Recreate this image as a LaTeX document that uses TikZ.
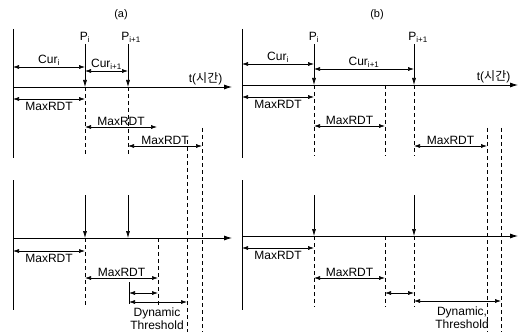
\documentclass[tikz,border=0pt]{standalone}
\usepackage{fontspec}
\setmainfont{Liberation Sans}
\newfontfamily\krfont{Noto Sans CJK KR}
\usetikzlibrary{arrows.meta,positioning}

\begin{document}
\begin{tikzpicture}[x=1pt, y=-1pt,
        axis/.style={thick, -{Latex[length=8pt,width=5pt]}},
        span/.style={semithick, {Latex[length=6pt,width=4pt]}-{Latex[length=6pt,width=4pt]}},
        pulse/.style={semithick, -{Latex[length=7pt,width=4pt]}},
        guide/.style={dashed, dash pattern=on 4pt off 3pt},
        edge/.style={thick},
        lbl/.style={font=\fontsize{12}{13}\selectfont, inner sep=1.5pt},
        ttl/.style={font=\fontsize{11}{12}\selectfont}
    ]
        \useasboundingbox (0,0) rectangle (519,334);

        % ── (a) top ──────────────────────────────────────────────────────
        \node[ttl] (aTitle) at (121,15) {(a)};
        \coordinate (aEdgeT) at (13,29);   \coordinate (aEdgeB) at (13,158);
        \coordinate (aAxL)   at (13,87);   \coordinate (aAxR)   at (232,87);
        \draw[edge] (aEdgeT) -- (aEdgeB);
        \draw[axis] (aAxL) -- (aAxR);
        \node[lbl, anchor=south east] (aTime) at (aAxR) [xshift=-8pt] {t({\krfont 시간})};

        \node[lbl] (aPi)  at (85,37)  {P\textsubscript{i}};
        \node[lbl] (aPj)  at (131,37) {P\textsubscript{i+1}};
        \draw[pulse] (85,44) coordinate (aPiT) -- (85,87) coordinate (aPiB);
        \draw[pulse] (128,44) coordinate (aPjT) -- (128,87) coordinate (aPjB);

        \coordinate (aC1l) at (13,67);  \coordinate (aC1r) at (85,67);
        \coordinate (aC2l) at (85,71);  \coordinate (aC2r) at (128,71);
        \draw[span] (aC1l) -- node[above, lbl] {Cur\textsubscript{i}} (aC1r);
        \draw[span] (aC2l) -- node[above, lbl] {Cur\textsubscript{i+1}} (aC2r);

        \coordinate (aM1l) at (13,99);   \coordinate (aM1r) at (85,99);
        \coordinate (aM2l) at (85,127);  \coordinate (aM2r) at (157,127);
        \coordinate (aM3l) at (128,146); \coordinate (aM3r) at (202,146);
        \draw[span] (aM1l) -- node[below=1pt, lbl] {MaxRDT} (aM1r);
        \draw[span] (aM2l) -- node[above, lbl] {MaxRDT} (aM2r);
        \draw[span] (aM3l) -- node[above, lbl] {MaxRDT} (aM3r);

        \draw[guide] (aPiB) -- (85,156);
        \draw[guide] (aPjB) -- (128,156);

        % ── (a) bottom ───────────────────────────────────────────────────
        \coordinate (aEdgeT2) at (13,180);  \coordinate (aEdgeB2) at (13,310);
        \coordinate (aAxL2)   at (13,238);  \coordinate (aAxR2)   at (232,238);
        \draw[edge] (aEdgeT2) -- (aEdgeB2);
        \draw[axis] (aAxL2) -- (aAxR2);
        \draw[pulse] (85,195) -- (85,238) coordinate (aPiB2);
        \draw[pulse] (128,195) -- (128,238);

        \coordinate (aN1l) at (13,251);  \coordinate (aN1r) at (85,251);
        \coordinate (aN2l) at (85,278);  \coordinate (aN2r) at (158,278);
        \draw[span] (aN1l) -- node[below=1pt, lbl] {MaxRDT} (aN1r);
        \draw[span] (aN2l) -- node[above, lbl] {MaxRDT} (aN2r);
        \draw[guide] (aPiB2) -- (85,307);
        \draw[guide] (158,238) -- (158,307);

        \draw (129,282) -- (129,304);
        \coordinate (aD1l) at (129,293); \coordinate (aD1r) at (158,293);
        \coordinate (aD2l) at (129,302); \coordinate (aD2r) at (187,302);
        \draw[span] (aD1l) -- (aD1r);
        \draw[span] (aD2l) -- (aD2r);
        \node[lbl, align=center] (aDyn) at (157,319) {Dynamic\\Threshold};

        \draw[guide] (187,140) -- (187,332);
        \draw[guide] (202,128) -- (202,332);

        % ── (b) top ──────────────────────────────────────────────────────
        \node[ttl] (bTitle) at (377,15) {(b)};
        \coordinate (bEdgeT) at (242,29);  \coordinate (bEdgeB) at (242,158);
        \coordinate (bAxL)   at (242,85);  \coordinate (bAxR)   at (518,85);
        \draw[edge] (bEdgeT) -- (bEdgeB);
        \draw[axis] (bAxL) -- (bAxR);
        \node[lbl, anchor=south east] (bTime) at (bAxR) [xshift=-6pt] {t({\krfont 시간})};

        \node[lbl] (bPi) at (314,37) {P\textsubscript{i}};
        \node[lbl] (bPj) at (418,37) {P\textsubscript{i+1}};
        \draw[pulse] (314,44) -- (314,85) coordinate (bPiB);
        \draw[pulse] (414,44) -- (414,85) coordinate (bPjB);

        \coordinate (bC1l) at (242,64);  \coordinate (bC1r) at (314,64);
        \coordinate (bC2l) at (314,69);  \coordinate (bC2r) at (414,69);
        \draw[span] (bC1l) -- node[above, lbl] {Cur\textsubscript{i}} (bC1r);
        \draw[span] (bC2l) -- node[above, lbl] {Cur\textsubscript{i+1}} (bC2r);

        \coordinate (bM1l) at (242,97);  \coordinate (bM1r) at (314,97);
        \coordinate (bM2l) at (314,126); \coordinate (bM2r) at (385,126);
        \coordinate (bM3l) at (414,146); \coordinate (bM3r) at (487,146);
        \draw[span] (bM1l) -- node[below=1pt, lbl] {MaxRDT} (bM1r);
        \draw[span] (bM2l) -- node[above, lbl] {MaxRDT} (bM2r);
        \draw[span] (bM3l) -- node[above, lbl] {MaxRDT} (bM3r);

        \draw[guide] (bPiB) -- (314,156);
        \draw[guide] (385,85) -- (385,156);
        \draw[guide] (bPjB) -- (414,156);

        % ── (b) bottom ───────────────────────────────────────────────────
        \coordinate (bEdgeT2) at (242,180);  \coordinate (bEdgeB2) at (242,310);
        \coordinate (bAxL2)   at (242,236);  \coordinate (bAxR2)   at (518,236);
        \draw[edge] (bEdgeT2) -- (bEdgeB2);
        \draw[axis] (bAxL2) -- (bAxR2);
        \draw[pulse] (314,195) -- (314,236) coordinate (bPiB2);
        \draw[pulse] (414,195) -- (414,236) coordinate (bPjB2);

        \coordinate (bN1l) at (242,248); \coordinate (bN1r) at (314,248);
        \coordinate (bN2l) at (314,278); \coordinate (bN2r) at (385,278);
        \draw[span] (bN1l) -- node[below=1pt, lbl] {MaxRDT} (bN1r);
        \draw[span] (bN2l) -- node[above, lbl] {MaxRDT} (bN2r);
        \draw[guide] (bPiB2) -- (314,307);
        \draw[guide] (385,236) -- (385,307);
        \draw[guide] (bPjB2) -- (414,307);

        \coordinate (bD1l) at (385,293); \coordinate (bD1r) at (414,293);
        \coordinate (bD2l) at (414,301); \coordinate (bD2r) at (501,301);
        \draw[span] (bD1l) -- (bD1r);
        \draw[span] (bD2l) -- (bD2r);
        \node[lbl, align=center] (bDyn) at (462,318) {Dynamic,\\Threshold};

        \draw[guide] (487,128) -- (487,332);
        \draw[guide] (501,128) -- (501,332);

    \end{tikzpicture}
\end{document}
